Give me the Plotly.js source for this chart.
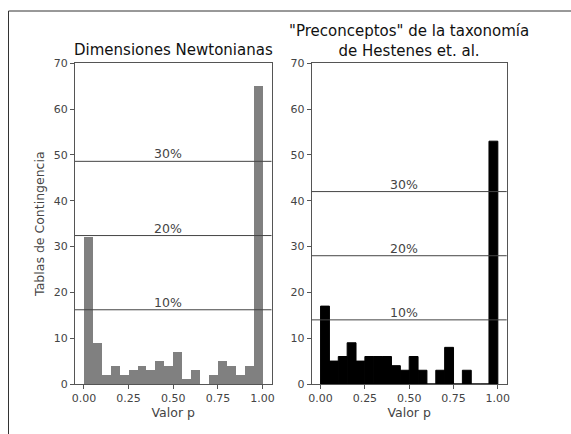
<!DOCTYPE html>
<html>
<head>
<meta charset="utf-8">
<script src="https://cdn.plot.ly/plotly-3.0.1.min.js"></script>
<style>html,body{margin:0;padding:0;background:#fff;} #chart{width:571px;height:434px;}</style>
</head>
<body>
<div id="chart"></div>
<script>
// Bin left edges (histogram bins of width 0.05)
const binLeft = [0.00,0.05,0.10,0.15,0.20,0.25,0.30,0.35,0.40,0.45,0.50,0.55,0.60,0.65,0.70,0.75,0.80,0.85,0.90,0.95];
const binWidth = 0.05;
// Left panel: Dimensiones Newtonianas
const countsNewton = [32,9,2,4,2,3,4,3,5,4,7,1,3,0,2,5,4,2,4,65];
const linesNewton = [16.2,32.4,48.6];
// Right panel: Preconceptos
const countsPrecon = [17,5,6,9,5,6,6,6,4,3,6,3,0,3,8,0,3,0,0,53];
const linesPrecon = [14,28,42];
const lineLabels = ['10%','20%','30%'];
const xTickVals = [0,0.25,0.5,0.75,1.0];
const xTickText = ['0.00','0.25','0.50','0.75','1.00'];
const yTickVals = [0,10,20,30,40,50,60,70];
const titleLeft = 'Dimensiones Newtonianas';
const titleRight = '"Preconceptos" de la taxonomía<br>de Hestenes et. al.';
const yTitle = 'Tablas de Contingencia';
const xTitle = 'Valor p';

const FONT = 'DejaVu Sans, sans-serif';
const W = 571, H = 434;
const px = v => v / W, py = v => 1 - v / H;

const traces = [
  {type:'bar', x: binLeft, y: countsNewton, width: binWidth, offset: 0,
   marker:{color:'#808080', line:{width:0}}, xaxis:'x', yaxis:'y', hoverinfo:'none'},
  {type:'bar', x: binLeft, y: countsPrecon, width: binWidth, offset: 0,
   marker:{color:'#000000', line:{color:'#000000', width:1}}, xaxis:'x2', yaxis:'y2', hoverinfo:'none'}
];

function xaxisDef(domain, anchor){
  return {domain: domain, anchor: anchor, range:[-0.05,1.05], tickvals:xTickVals, ticktext:xTickText,
    ticks:'outside', ticklen:4, tickcolor:'#555', tickwidth:1, showline:true, mirror:true,
    linecolor:'#555', linewidth:1, showgrid:false, zeroline:false,
    tickfont:{family:FONT, size:11, color:'#444'},
    title:{text:xTitle, font:{family:FONT, size:12.5, color:'#444'}, standoff:3}};
}
function yaxisDef(anchor, withTitle){
  const a = {domain:[py(384), py(63.3)], anchor: anchor, range:[0,70], tickvals:yTickVals,
    ticks:'outside', ticklen:4, tickcolor:'#555', tickwidth:1, showline:true, mirror:true,
    linecolor:'#555', linewidth:1, showgrid:false, zeroline:false,
    tickfont:{family:FONT, size:11, color:'#444'}};
  if (withTitle) a.title = {text:yTitle, font:{family:FONT, size:12.5, color:'#444'}, standoff:6};
  return a;
}

const shapes = [];
const annotations = [];
function addLines(vals, xref, yref){
  vals.forEach((v,i)=>{
    shapes.push({type:'line', xref: xref+' domain', yref: yref, x0:0, x1:1, y0:v, y1:v,
      line:{color:'#444', width:1}});
    annotations.push({xref: xref, yref: yref, x:0.47, y:v, text: lineLabels[i], showarrow:false,
      xanchor:'center', yanchor:'bottom', yshift:-2, font:{family:FONT, size:12.5, color:'#444'}});
  });
}
addLines(linesNewton, 'x', 'y');
addLines(linesPrecon, 'x2', 'y2');

// Figure frame (left and top border)
shapes.push({type:'path', xref:'paper', yref:'paper',
  path:`M ${px(8.5)} -0.2 L ${px(8.5)} ${py(11)} L 1.2 ${py(11)}`,
  line:{color:'#333', width:1}});

annotations.push({xref:'paper', yref:'paper', x:px(173), y:py(50), text:titleLeft, showarrow:false,
  xanchor:'center', yanchor:'middle', font:{family:FONT, size:15, color:'#111'}});
annotations.push({xref:'paper', yref:'paper', x:px(409), y:py(40.5), text:titleRight, showarrow:false,
  xanchor:'center', yanchor:'middle', font:{family:FONT, size:15, color:'#111'}});

const layout = {
  width:W, height:H, margin:{l:0,r:0,t:0,b:0}, paper_bgcolor:'#fff', plot_bgcolor:'#fff',
  showlegend:false, bargap:0,
  xaxis: xaxisDef([px(75), px(271.5)], 'y'),
  yaxis: yaxisDef('x', true),
  xaxis2: xaxisDef([px(311.7), px(506.7)], 'y2'),
  yaxis2: yaxisDef('x2', false),
  shapes: shapes, annotations: annotations
};

Plotly.newPlot('chart', traces, layout, {staticPlot:true, displayModeBar:false});
</script>
</body>
</html>
